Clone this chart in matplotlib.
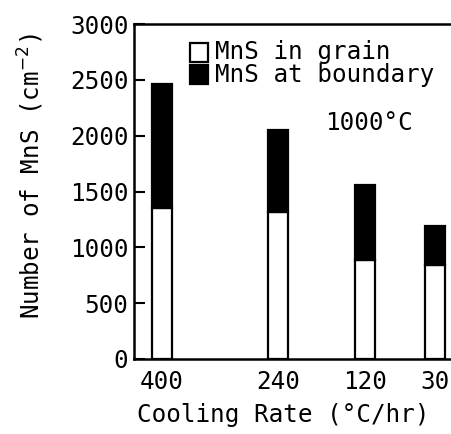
import matplotlib.pyplot as plt
from matplotlib.patches import Rectangle

# data
rates = ["400", "240", "120", "30"]
in_grain = [1350, 1320, 890, 840]
total = [2460, 2050, 1560, 1190]
at_boundary = [t - g for t, g in zip(total, in_grain)]
legend_labels = ["MnS in grain", "MnS at boundary"]

# bar centres along the (non-uniform) cooling-rate axis, in axis units
xpos = [28, 144, 231, 301]
bar_w = 20

plt.rcParams["font.family"] = ["DejaVu Sans Mono"]
plt.rcParams["font.size"] = 17.5

fig = plt.figure(figsize=(4.52, 4.34), dpi=100)
ax = fig.add_axes([134 / 452, (434 - 359) / 434, 318 / 452, 335 / 434])

ax.bar(xpos, in_grain, width=bar_w, color="white", edgecolor="black", linewidth=1.6)
ax.bar(xpos, at_boundary, width=bar_w, bottom=in_grain, color="black",
       edgecolor="black", linewidth=1.6)

ax.set_xlim(0, 318)
ax.set_ylim(0, 3000)
ax.set_yticks(range(0, 3001, 500))
ax.set_xticks(xpos)
ax.set_xticklabels(rates)
ax.tick_params(axis="y", direction="in", length=8, width=1.5, pad=4)
ax.tick_params(axis="x", length=0, pad=8)
for side in ["left", "top", "bottom"]:
    ax.spines[side].set_linewidth(1.8)
ax.spines["right"].set_visible(False)

ax.set_ylabel("Number of MnS (cm$^{-2}$)")
ax.yaxis.set_label_coords(-0.325, 0.545)
ax.set_xlabel("Cooling Rate (°C/hr)")
ax.xaxis.set_label_coords(0.47, -0.167)
ax.xaxis.label.set_va("center")
ax.yaxis.label.set_va("center")

# legend drawn by hand to get the tight line spacing of the original
for (fill, label, ybot, ytxt) in [("white", legend_labels[0], 0.887, 0.915),
                                   ("black", legend_labels[1], 0.821, 0.848)]:
    ax.add_patch(Rectangle((0.176, ybot), 0.057, 0.057, transform=ax.transAxes,
                           facecolor=fill, edgecolor="black", linewidth=1.6,
                           clip_on=False))
    ax.text(0.255, ytxt, label, transform=ax.transAxes, va="center", ha="left")

ax.text(0.60, 2110, "1000°C", transform=ax.get_yaxis_transform(),
        va="center", ha="left")

fig.savefig("out.png", dpi=100)
